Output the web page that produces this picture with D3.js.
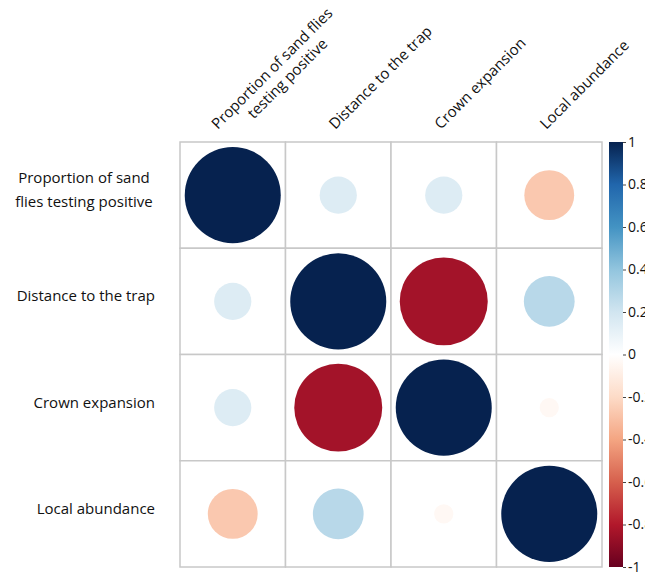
<!DOCTYPE html>
<html>
<head>
<meta charset="utf-8">
<script src="https://cdn.jsdelivr.net/npm/d3@7"></script>
<style>
  body { margin: 0; background: #fff; }
  text { font-family: "Open Sans", "Liberation Sans", sans-serif; fill: #111; }
</style>
</head>
<body>
<svg id="chart" width="645" height="573"></svg>
<script>
// variables, in row/column order
const variables = [
  ["Proportion of sand flies", "testing positive"],
  ["Distance to the trap"],
  ["Crown expansion"],
  ["Local abundance"]
];
const rowLabels = [
  ["Proportion of sand", "flies testing positive"],
  ["Distance to the trap"],
  ["Crown expansion"],
  ["Local abundance"]
];
// correlation matrix
const corr = [
  [1.00, 0.15, 0.15, -0.27],
  [0.15, 1.00, -0.84, 0.28],
  [0.15, -0.84, 1.00, -0.04],
  [-0.27, 0.28, -0.04, 1.00]
];
const legendTicks = [1, 0.8, 0.6, 0.4, 0.2, 0, -0.2, -0.4, -0.6, -0.8, -1];
const palette = ["#67001F", "#B2182B", "#D6604D", "#F4A582", "#FDDBC7", "#FFFFFF",
                 "#D1E5F0", "#92C5DE", "#4393C3", "#2166AC", "#06224F"];

const svg = d3.select("#chart");
const gLeft = 180, gTop = 142, gRight = 602, gBottom = 567;

const x = d3.scaleBand().domain(d3.range(4)).range([gLeft, gRight]);
const y = d3.scaleBand().domain(d3.range(4)).range([gTop, gBottom]);
const color = d3.scaleLinear()
  .domain(d3.range(11).map(i => -1 + i * 0.2))
  .range(palette);
const rScale = d3.scaleSqrt().domain([0, 1]).range([0, x.bandwidth() * 0.455]);

const cells = [];
corr.forEach((row, i) => row.forEach((v, j) => cells.push({ i, j, v })));

// grid
const grid = svg.append("g");
grid.selectAll("rect")
  .data(cells)
  .join("rect")
  .attr("x", d => x(d.j))
  .attr("y", d => y(d.i))
  .attr("width", x.bandwidth())
  .attr("height", y.bandwidth())
  .attr("fill", "white")
  .attr("stroke", "#c8c8c8")
  .attr("stroke-width", 1.5);

// circles
svg.append("g")
  .selectAll("circle")
  .data(cells)
  .join("circle")
  .attr("cx", d => x(d.j) + x.bandwidth() / 2)
  .attr("cy", d => y(d.i) + y.bandwidth() / 2)
  .attr("r", d => rScale(Math.abs(d.v)))
  .attr("fill", d => color(d.v));

// row labels
const rl = svg.append("g");
rowLabels.forEach((lines, i) => {
  const cy = y(i) + y.bandwidth() / 2 - 5;
  const t = rl.append("text")
    .attr("font-size", 15)
    .attr("text-anchor", lines.length > 1 ? "middle" : "end");
  const lh = 24;
  lines.forEach((s, k) => {
    t.append("tspan")
      .attr("x", lines.length > 1 ? 84 : 155)
      .attr("y", cy + 5 + (k - (lines.length - 1) / 2) * lh)
      .text(s);
  });
});

// column labels, rotated
const cl = svg.append("g");
variables.forEach((lines, j) => {
  const cx = x(j) + x.bandwidth() / 2;
  const dx = lines.length > 1 ? -15 : -3;
  const t = cl.append("text")
    .attr("font-size", 15)
    .attr("transform", `translate(${cx + dx},${gTop - 12}) rotate(-45)`);
  lines.forEach((s, k) => {
    t.append("tspan")
      .attr("x", k * 33)
      .attr("y", k * 18)
      .text(s);
  });
});

// color legend
const lx = 609, lw = 14;
const ly = d3.scaleLinear().domain([1, -1]).range([gTop, gBottom]);
const defs = svg.append("defs");
const grad = defs.append("linearGradient")
  .attr("id", "cbar").attr("x1", 0).attr("x2", 0).attr("y1", 0).attr("y2", 1);
palette.slice().reverse().forEach((c, k) => {
  grad.append("stop").attr("offset", k / 10).attr("stop-color", c);
});
svg.append("rect")
  .attr("x", lx).attr("y", gTop)
  .attr("width", lw).attr("height", gBottom - gTop)
  .attr("fill", "url(#cbar)");

const axis = svg.append("g")
  .attr("transform", `translate(${lx + lw},0)`)
  .call(d3.axisRight(ly).tickValues(legendTicks).tickSize(3).tickFormat(d => String(d)));
axis.select(".domain").remove();
axis.selectAll("line").attr("stroke", "#444");
axis.selectAll("text")
  .attr("font-size", 14)
  .attr("x", 5)
  .style("font-family", "'Open Sans', 'Liberation Sans', sans-serif")
  .attr("fill", "#111");
</script>
</body>
</html>
